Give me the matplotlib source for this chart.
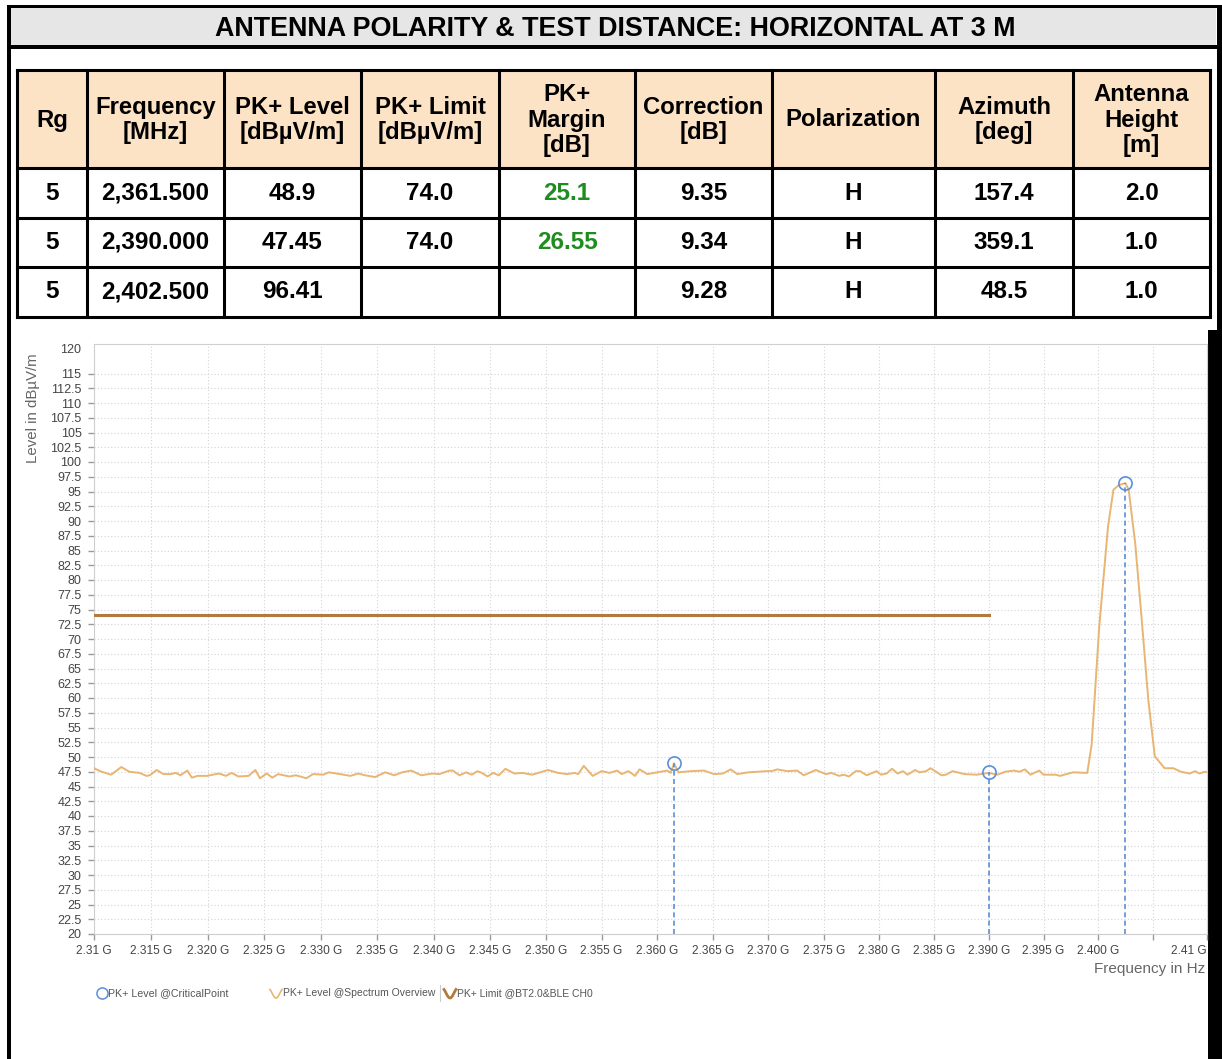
import numpy as np
import matplotlib.pyplot as plt
from matplotlib.patches import Rectangle

plt.rcParams['font.family'] = ['Liberation Sans', 'DejaVu Sans']

# ---- table data ----
title = 'ANTENNA POLARITY & TEST DISTANCE: HORIZONTAL AT 3 M'
headers = ['Rg', 'Frequency\n[MHz]', 'PK+ Level\n[dBµV/m]', 'PK+ Limit\n[dBµV/m]',
           'PK+\nMargin\n[dB]', 'Correction\n[dB]', 'Polarization',
           'Azimuth\n[deg]', 'Antenna\nHeight\n[m]']
rg = [5, 5, 5]
freq_txt = ['2,361.500', '2,390.000', '2,402.500']
crit_freq = [2361.5, 2390.0, 2402.5]
crit_level = [48.9, 47.45, 96.41]
pk_limit = [74.0, 74.0, None]
pk_margin = [25.1, 26.55, None]
correction = [9.35, 9.34, 9.28]
polarization = ['H', 'H', 'H']
azimuth = [157.4, 359.1, 48.5]
ant_height = [2.0, 1.0, 1.0]

# ---- chart data ----
limit_freq = [2310.0, 2390.0]
limit_level = [74.0, 74.0]

spec_freq = [2310.0, 2310.6, 2311.5, 2312.4, 2313.1, 2314.0, 2314.6, 2314.9, 2315.5, 2316.1,
             2316.7, 2317.2, 2317.6, 2318.2, 2318.6, 2319.1, 2319.9, 2321.0, 2321.6, 2322.1,
             2322.7, 2323.6, 2324.2, 2324.6, 2325.2, 2325.7, 2326.2, 2327.2, 2327.8, 2328.7,
             2329.3, 2330.2, 2330.7, 2331.7, 2332.6, 2333.3, 2333.9, 2334.8, 2335.7, 2336.5,
             2337.2, 2338.0, 2338.9, 2339.9, 2340.5, 2341.4, 2341.7, 2342.3, 2342.9, 2343.4,
             2343.9, 2344.3, 2344.8, 2345.3, 2345.8, 2346.4, 2347.2, 2347.9, 2348.8, 2350.2,
             2351.1, 2351.9, 2352.6, 2352.9, 2353.4, 2354.2, 2355.0, 2355.7, 2356.4, 2356.8,
             2357.4, 2358.0, 2358.4, 2359.1, 2360.0, 2360.9, 2361.2, 2361.5, 2361.9, 2363.0,
             2364.2, 2365.1, 2365.9, 2366.6, 2367.2, 2368.2, 2369.8, 2370.3, 2370.8, 2371.7,
             2372.6, 2373.2, 2374.3, 2375.2, 2375.7, 2376.4, 2376.8, 2377.3, 2377.9, 2378.3,
             2378.9, 2379.8, 2380.2, 2380.7, 2381.2, 2381.7, 2382.2, 2382.6, 2383.3, 2383.7,
             2384.3, 2384.7, 2385.7, 2386.1, 2386.7, 2387.8, 2388.9, 2390.0, 2390.8, 2391.5,
             2392.3, 2392.8, 2393.3, 2393.8, 2394.6, 2395.0, 2396.1, 2396.5, 2397.7, 2399.0,
             2399.4, 2400.1, 2400.9, 2401.4, 2401.9, 2402.5, 2402.8, 2403.4, 2404.0, 2404.6,
             2405.2, 2406.1, 2406.9, 2407.6, 2408.4, 2408.9, 2409.3, 2409.8, 2410.0]
spec_level = [48.1, 47.55, 47.0, 48.3, 47.5, 47.3, 46.8, 46.9, 47.8, 47.1,
              47.1, 47.3, 46.9, 47.7, 46.5, 46.8, 46.8, 47.2, 46.8, 47.3,
              46.7, 46.8, 47.8, 46.4, 47.2, 46.5, 47.1, 46.7, 46.9, 46.4,
              47.1, 47.0, 47.4, 47.1, 46.8, 47.2, 46.9, 46.6, 47.4, 46.9,
              47.4, 47.7, 46.9, 47.2, 47.1, 47.7, 47.7, 46.9, 47.4, 47.0,
              47.6, 47.3, 46.7, 47.3, 46.9, 48.0, 47.2, 47.3, 47.0, 47.8,
              47.3, 47.1, 47.3, 47.1, 48.5, 46.8, 47.6, 47.3, 47.7, 47.1,
              47.6, 46.8, 47.9, 47.1, 47.4, 47.7, 47.3, 48.9, 47.4, 47.6,
              47.7, 47.1, 47.2, 47.9, 47.1, 47.4, 47.6, 47.6, 47.9, 47.6,
              47.7, 46.9, 47.8, 47.1, 47.3, 46.8, 47.0, 46.7, 47.6, 47.6,
              46.9, 47.6, 47.0, 47.2, 48.0, 47.2, 47.6, 47.0, 47.8, 47.4,
              47.6, 48.1, 46.9, 47.0, 47.6, 47.1, 47.0, 47.3, 47.0, 47.5,
              47.7, 47.5, 47.9, 47.0, 47.7, 47.0, 47.0, 46.8, 47.4, 47.3,
              52.0, 72.1, 89.0, 95.3, 96.1, 96.41, 95.3, 86.2, 73.2, 59.7,
              50.1, 48.1, 48.1, 47.5, 47.2, 47.6, 47.2, 47.5, 47.4]

xticks = list(range(2310, 2411, 5))
xlabels = ['2.31 G'] + ['%.3f G' % (f / 1000) for f in xticks[1:-2]] + ['', '2.41 G']
yticks = list(np.arange(20, 115.1, 2.5))

BLUE = '#5b8fd8'
SPEC = '#e8b572'
LIMIT = '#b07b3c'

# the source chart's frequency axis is slightly compressed towards the right
QA, QB = 11.40, -0.00273


def fwd(f):
    t = np.asarray(f, dtype=float) - 2310.0
    return QA * t + QB * t * t


def inv(p):
    p = np.asarray(p, dtype=float)
    d = np.clip(QA * QA + 4 * QB * p, 0, None)
    return 2310.0 + (-QA + np.sqrt(d)) / (2 * QB)


W, H = 1222, 1059
fig = plt.figure(figsize=(W / 100, H / 100), dpi=100)

# pixel overlay for frame, title, table and legend
ov = fig.add_axes([0, 0, 1, 1])
ov.set_xlim(0, W)
ov.set_ylim(H, 0)
ov.axis('off')

# frame + title bar
ov.add_patch(Rectangle((11, 7.5), 1205, 38, fc='#e6e6e6', ec='none'))
ov.add_patch(Rectangle((7, 5), W - 7, 2.5, fc='black', ec='none'))
ov.add_patch(Rectangle((7, 45), W - 7, 4, fc='black', ec='none'))
ov.add_patch(Rectangle((7, 5), 4, H, fc='black', ec='none'))
ov.add_patch(Rectangle((1217, 5), 5, H, fc='black', ec='none'))
ov.add_patch(Rectangle((1208, 330), 14, H - 330, fc='black', ec='none'))
ov.text(615, 29, title, ha='center', va='center', fontsize=19.4, fontweight='bold')

# table
col_x = [17, 87, 224, 361, 499, 635, 772, 935, 1073, 1210]
row_y = [70, 168, 218, 267, 317]
ov.add_patch(Rectangle((col_x[0], row_y[0]), col_x[-1] - col_x[0], row_y[1] - row_y[0],
                       fc='#fde3c6', ec='none'))
for x in col_x:
    ov.plot([x, x], [row_y[0], row_y[-1]], color='black', lw=2.2, solid_capstyle='projecting')
for y in row_y:
    ov.plot([col_x[0], col_x[-1]], [y, y], color='black', lw=2.2, solid_capstyle='projecting')


def fmt(v, nd=None):
    if v is None:
        return ''
    if nd is not None:
        return '%.*f' % (nd, v)
    return str(v)


columns = [
    [str(v) for v in rg],
    freq_txt,
    [fmt(v) for v in crit_level],
    [fmt(v, 1) for v in pk_limit],
    [fmt(v) for v in pk_margin],
    [fmt(v) for v in correction],
    polarization,
    [fmt(v, 1) for v in azimuth],
    [fmt(v, 1) for v in ant_height],
]

for c, head in enumerate(headers):
    cx = (col_x[c] + col_x[c + 1]) / 2
    ov.text(cx, (row_y[0] + row_y[1]) / 2 + 1, head, ha='center', va='center',
            fontsize=17.2, fontweight='bold', linespacing=1.12)
    for r, val in enumerate(columns[c]):
        cy = (row_y[r + 1] + row_y[r + 2]) / 2
        color = '#1e8c1e' if c == 4 else 'black'
        ov.text(cx, cy, val, ha='center', va='center', fontsize=17.5,
                fontweight='bold', color=color)

# chart
ax = fig.add_axes([94 / W, 1 - 934 / H, (1207 - 94) / W, (934 - 344) / H])
ax.set_facecolor('white')
ax.set_xscale('function', functions=(fwd, inv))
ax.plot(spec_freq, spec_level, color=SPEC, lw=1.4, zorder=3)
ax.plot(limit_freq, limit_level, color=LIMIT, lw=2.2, zorder=3)
ax.vlines(crit_freq, 20, crit_level, colors=BLUE, linestyles=(0, (3, 2)), lw=1.2, zorder=4)
ax.plot(crit_freq, crit_level, 'o', mfc='none', mec=BLUE, ms=9.5, mew=1.2, zorder=5)

ax.set_xlim(2310, 2410)
ax.set_ylim(20, 120)
ax.set_xticks(xticks, xlabels)
ax.minorticks_off()
ax.set_yticks(yticks, ['%g' % v for v in yticks])
ax.xaxis.get_majorticklabels()[-1].set_horizontalalignment('right')
ax.tick_params(axis='both', colors='#999999', labelcolor='#444444', labelsize=8.6,
               length=4, width=1)
ax.tick_params(axis='y', pad=5, labelsize=9)
ax.tick_params(axis='x', pad=4)
ax.grid(True, color='#d4d4d4', linestyle=(0, (1, 2)), linewidth=0.8)
ax.set_axisbelow(True)
for s in ax.spines.values():
    s.set_color('#cfcfcf')
ax.text(-0.012, 120, '120', transform=ax.get_yaxis_transform(), ha='right', va='top',
        fontsize=9, color='#444444')

ov.text(33, 408, 'Level in dBµV/m', rotation=90, ha='center', va='center',
        fontsize=10.8, color='#666666')
ov.text(1205, 969, 'Frequency in Hz', ha='right', va='center', fontsize=11, color='#666666')

# legend
ly = 993
ov.plot([102], [ly], 'o', mfc='none', mec=BLUE, ms=8, mew=1.1)
ov.text(108, ly, 'PK+ Level @CriticalPoint', ha='left', va='center', fontsize=7.7, color='#555555')
t = np.linspace(0, 1, 30)
ov.plot(270 + 12 * t, ly - 5 * np.sin(2 * np.pi * t * 0.75 + np.pi * 0.75), color=SPEC, lw=1.2)
ov.text(283, ly, 'PK+ Level @Spectrum Overview', ha='left', va='center', fontsize=7.5, color='#555555')
ov.plot([440, 440], [ly - 8, ly + 8], color='#cccccc', lw=0.8)
ov.plot(444 + 12 * t, ly - 5 * np.sin(2 * np.pi * t * 0.75 + np.pi * 0.75), color=LIMIT, lw=2)
ov.text(457, ly, 'PK+ Limit @BT2.0&BLE CH0', ha='left', va='center', fontsize=7.5, color='#555555')

fig.savefig('out.png', dpi=100)
